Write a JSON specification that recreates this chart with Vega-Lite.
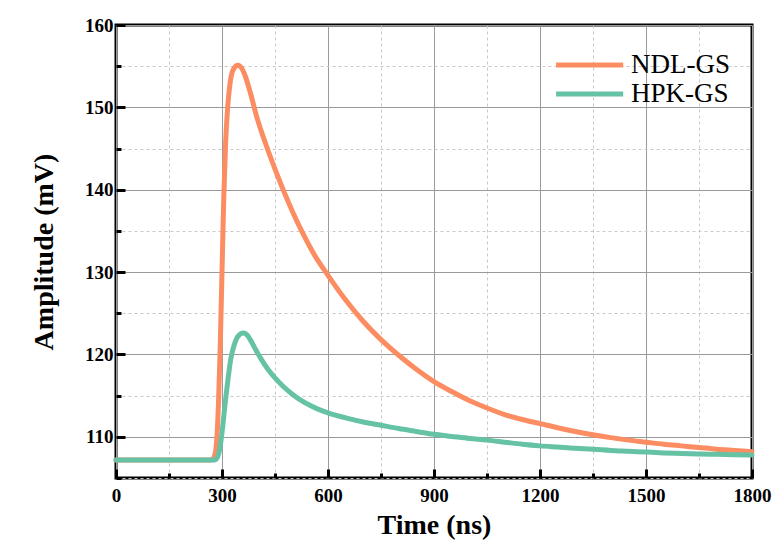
{
  "$schema": "https://vega.github.io/schema/vega-lite/v6.json",
  "autosize": "none",
  "width": 636,
  "height": 453,
  "padding": {"left": 116, "top": 25, "right": 32, "bottom": 67},
  "background": "white",
  "config": {
    "view": {"stroke": "black", "strokeWidth": 3},
    "font": "Liberation Serif"
  },
  "data": {
    "values": [
      {"t": 0, "v": 107.2, "s": "NDL-GS"},
      {"t": 100, "v": 107.2, "s": "NDL-GS"},
      {"t": 200, "v": 107.2, "s": "NDL-GS"},
      {"t": 270, "v": 107.2, "s": "NDL-GS"},
      {"t": 276, "v": 107.4, "s": "NDL-GS"},
      {"t": 283, "v": 108.6, "s": "NDL-GS"},
      {"t": 290, "v": 114.0, "s": "NDL-GS"},
      {"t": 295, "v": 121.0, "s": "NDL-GS"},
      {"t": 300, "v": 130.0, "s": "NDL-GS"},
      {"t": 305, "v": 139.0, "s": "NDL-GS"},
      {"t": 310, "v": 145.5, "s": "NDL-GS"},
      {"t": 316, "v": 150.0, "s": "NDL-GS"},
      {"t": 323, "v": 153.0, "s": "NDL-GS"},
      {"t": 332, "v": 154.6, "s": "NDL-GS"},
      {"t": 345, "v": 155.1, "s": "NDL-GS"},
      {"t": 355, "v": 154.8, "s": "NDL-GS"},
      {"t": 365, "v": 153.9, "s": "NDL-GS"},
      {"t": 380, "v": 151.8, "s": "NDL-GS"},
      {"t": 400, "v": 148.6, "s": "NDL-GS"},
      {"t": 425, "v": 145.4, "s": "NDL-GS"},
      {"t": 450, "v": 142.5, "s": "NDL-GS"},
      {"t": 475, "v": 139.8, "s": "NDL-GS"},
      {"t": 500, "v": 137.3, "s": "NDL-GS"},
      {"t": 530, "v": 134.6, "s": "NDL-GS"},
      {"t": 560, "v": 132.2, "s": "NDL-GS"},
      {"t": 600, "v": 129.6, "s": "NDL-GS"},
      {"t": 650, "v": 126.6, "s": "NDL-GS"},
      {"t": 700, "v": 124.0, "s": "NDL-GS"},
      {"t": 750, "v": 121.8, "s": "NDL-GS"},
      {"t": 800, "v": 119.9, "s": "NDL-GS"},
      {"t": 850, "v": 118.2, "s": "NDL-GS"},
      {"t": 900, "v": 116.7, "s": "NDL-GS"},
      {"t": 950, "v": 115.5, "s": "NDL-GS"},
      {"t": 1000, "v": 114.4, "s": "NDL-GS"},
      {"t": 1050, "v": 113.5, "s": "NDL-GS"},
      {"t": 1100, "v": 112.7, "s": "NDL-GS"},
      {"t": 1150, "v": 112.1, "s": "NDL-GS"},
      {"t": 1200, "v": 111.6, "s": "NDL-GS"},
      {"t": 1250, "v": 111.1, "s": "NDL-GS"},
      {"t": 1300, "v": 110.65, "s": "NDL-GS"},
      {"t": 1350, "v": 110.25, "s": "NDL-GS"},
      {"t": 1400, "v": 109.9, "s": "NDL-GS"},
      {"t": 1450, "v": 109.6, "s": "NDL-GS"},
      {"t": 1500, "v": 109.35, "s": "NDL-GS"},
      {"t": 1550, "v": 109.1, "s": "NDL-GS"},
      {"t": 1600, "v": 108.9, "s": "NDL-GS"},
      {"t": 1650, "v": 108.7, "s": "NDL-GS"},
      {"t": 1700, "v": 108.5, "s": "NDL-GS"},
      {"t": 1750, "v": 108.35, "s": "NDL-GS"},
      {"t": 1800, "v": 108.2, "s": "NDL-GS"},
      {"t": 0, "v": 107.2, "s": "HPK-GS"},
      {"t": 100, "v": 107.2, "s": "HPK-GS"},
      {"t": 200, "v": 107.2, "s": "HPK-GS"},
      {"t": 280, "v": 107.2, "s": "HPK-GS"},
      {"t": 288, "v": 107.6, "s": "HPK-GS"},
      {"t": 294, "v": 108.6, "s": "HPK-GS"},
      {"t": 300, "v": 110.5, "s": "HPK-GS"},
      {"t": 310, "v": 114.5, "s": "HPK-GS"},
      {"t": 317, "v": 117.0, "s": "HPK-GS"},
      {"t": 325, "v": 119.5, "s": "HPK-GS"},
      {"t": 335, "v": 121.2, "s": "HPK-GS"},
      {"t": 345, "v": 122.2, "s": "HPK-GS"},
      {"t": 360, "v": 122.6, "s": "HPK-GS"},
      {"t": 370, "v": 122.4, "s": "HPK-GS"},
      {"t": 380, "v": 121.8, "s": "HPK-GS"},
      {"t": 395, "v": 120.6, "s": "HPK-GS"},
      {"t": 410, "v": 119.5, "s": "HPK-GS"},
      {"t": 430, "v": 118.2, "s": "HPK-GS"},
      {"t": 450, "v": 117.15, "s": "HPK-GS"},
      {"t": 475, "v": 116.05, "s": "HPK-GS"},
      {"t": 500, "v": 115.15, "s": "HPK-GS"},
      {"t": 525, "v": 114.4, "s": "HPK-GS"},
      {"t": 550, "v": 113.8, "s": "HPK-GS"},
      {"t": 575, "v": 113.3, "s": "HPK-GS"},
      {"t": 600, "v": 112.9, "s": "HPK-GS"},
      {"t": 650, "v": 112.3, "s": "HPK-GS"},
      {"t": 700, "v": 111.8, "s": "HPK-GS"},
      {"t": 750, "v": 111.4, "s": "HPK-GS"},
      {"t": 800, "v": 111.0, "s": "HPK-GS"},
      {"t": 850, "v": 110.65, "s": "HPK-GS"},
      {"t": 900, "v": 110.3, "s": "HPK-GS"},
      {"t": 950, "v": 110.05, "s": "HPK-GS"},
      {"t": 1000, "v": 109.8, "s": "HPK-GS"},
      {"t": 1050, "v": 109.6, "s": "HPK-GS"},
      {"t": 1100, "v": 109.35, "s": "HPK-GS"},
      {"t": 1150, "v": 109.1, "s": "HPK-GS"},
      {"t": 1200, "v": 108.9, "s": "HPK-GS"},
      {"t": 1250, "v": 108.75, "s": "HPK-GS"},
      {"t": 1300, "v": 108.6, "s": "HPK-GS"},
      {"t": 1350, "v": 108.5, "s": "HPK-GS"},
      {"t": 1400, "v": 108.35, "s": "HPK-GS"},
      {"t": 1450, "v": 108.25, "s": "HPK-GS"},
      {"t": 1500, "v": 108.15, "s": "HPK-GS"},
      {"t": 1550, "v": 108.05, "s": "HPK-GS"},
      {"t": 1600, "v": 107.98, "s": "HPK-GS"},
      {"t": 1650, "v": 107.92, "s": "HPK-GS"},
      {"t": 1700, "v": 107.87, "s": "HPK-GS"},
      {"t": 1750, "v": 107.82, "s": "HPK-GS"},
      {"t": 1800, "v": 107.8, "s": "HPK-GS"}
    ]
  },
  "mark": {"type": "line", "strokeWidth": 5, "strokeCap": "round", "strokeJoin": "round", "interpolate": "monotone"},
  "encoding": {
    "x": {
      "field": "t",
      "type": "quantitative",
      "scale": {"domain": [0, 1800], "nice": false, "zero": false},
      "axis": {
        "title": "Time (ns)",
        "values": [0, 150, 300, 450, 600, 750, 900, 1050, 1200, 1350, 1500, 1650, 1800],
        "labelExpr": "datum.value % 300 === 0 ? datum.label : ''",
        "format": "d",
        "domain": false,
        "labelFont": "Liberation Serif",
        "labelFontWeight": "bold",
        "labelFontSize": 19,
        "labelColor": "black",
        "labelPadding": 17,
        "labelFlush": false,
        "titleFont": "Liberation Serif",
        "titleFontWeight": "bold",
        "titleFontSize": 28,
        "titleColor": "black",
        "titlePadding": 6,
        "tickColor": "black",
        "tickWidth": 3,
        "tickSize": {"condition": {"test": "datum.value % 300 === 0", "value": -9}, "value": -5},
        "grid": true,
        "gridColor": {"condition": {"test": "datum.value % 300 === 0", "value": "#9a9a9a"}, "value": "#c8c8c8"},
        "gridDash": {"condition": {"test": "datum.value % 300 === 0", "value": []}, "value": [3, 3]},
        "gridWidth": 1
      }
    },
    "y": {
      "field": "v",
      "type": "quantitative",
      "scale": {"domain": [105, 160], "nice": false, "zero": false},
      "axis": {
        "title": "Amplitude (mV)",
        "values": [105, 110, 115, 120, 125, 130, 135, 140, 145, 150, 155, 160],
        "labelExpr": "datum.value % 10 === 0 ? datum.label : ''",
        "domain": false,
        "labelFont": "Liberation Serif",
        "labelFontWeight": "bold",
        "labelFontSize": 19,
        "labelColor": "black",
        "labelPadding": 12,
        "labelFlush": false,
        "titleFont": "Liberation Serif",
        "titleFontWeight": "bold",
        "titleFontSize": 28,
        "titleColor": "black",
        "titlePadding": 26,
        "tickColor": "black",
        "tickWidth": 3,
        "tickSize": {"condition": {"test": "datum.value % 10 === 0", "value": -9}, "value": -5},
        "grid": true,
        "gridColor": {"condition": {"test": "datum.value % 10 === 0", "value": "#9a9a9a"}, "value": "#c8c8c8"},
        "gridDash": {"condition": {"test": "datum.value % 10 === 0", "value": []}, "value": [3, 3]},
        "gridWidth": 1
      }
    },
    "color": {
      "field": "s",
      "type": "nominal",
      "sort": ["NDL-GS", "HPK-GS"],
      "scale": {"domain": ["NDL-GS", "HPK-GS"], "range": ["#FC8D62", "#66C2A5"]},
      "legend": {
        "title": null,
        "orient": "none",
        "legendX": 482,
        "legendY": 26,
        "symbolType": "M-5,0H1",
        "symbolSize": 500,
        "symbolStrokeWidth": 5,
        "symbolFillColor": "transparent",
        "labelFont": "Liberation Serif",
        "labelFontSize": 27,
        "labelColor": "black",
        "labelOffset": 5,
        "rowPadding": 2
      }
    }
  }
}
